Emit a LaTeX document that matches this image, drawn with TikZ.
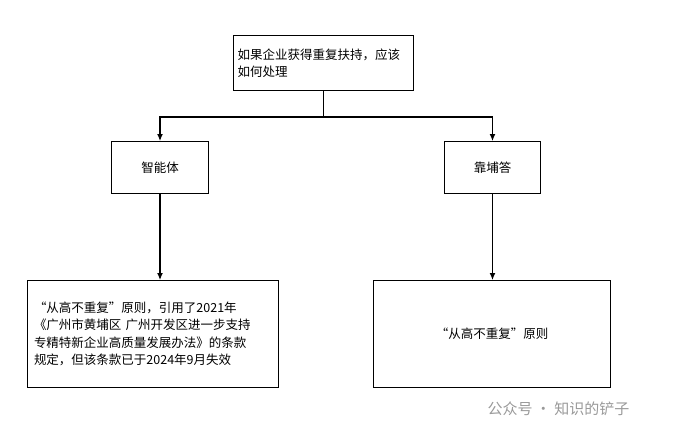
\documentclass[tikz,border=0pt]{standalone}
\usepackage{fontspec}
\setmainfont{Noto Sans CJK SC}
\usetikzlibrary{arrows.meta}
\begin{document}
\begin{tikzpicture}[x=1pt,y=-1pt,
  box/.style={draw,line width=1pt,inner sep=0pt,font=\fontsize{12.5}{17.5}\selectfont},
  arr/.style={line width=1.2pt,-{Latex[length=7pt,width=6pt]}}]
\useasboundingbox (0,0) rectangle (688,437);
\node[box,minimum width=180,minimum height=55,anchor=north west,text width=172,align=left] (top) at (233,35) {如果企业获得重复扶持，应该\\如何处理};
\node[box,minimum width=97,minimum height=52,anchor=north west] (l) at (111,141) {智能体};
\node[box,minimum width=96,minimum height=52,anchor=north west] (r) at (444,141) {靠埔答};
\node[box,minimum width=251,minimum height=107,anchor=north west,text width=238,align=left] (bl) at (27,280) {“从高不重复”原则，引用了2021年\\《广州市黄埔区 广州开发区进一步支持\\专精特新企业高质量发展办法》的条款\\规定，但该条款已于2024年9月失效};
\node[box,minimum width=237,minimum height=107,anchor=north west] (br) at (373,280) {“从高不重复”原则};
\coordinate (j) at (top.south |- 0,117);
\draw[line width=1.2pt] (top.south) -- (j);
\draw[arr] (j) -| (l.north);
\draw[arr] (j) -| (r.north);
\draw[arr] (l.south) -- (bl.north -| l.south);
\draw[arr] (r.south) -- (br.north -| r.south);
\node[text=gray!80,font=\fontsize{15}{17}\selectfont,anchor=west] (wm) at (484,409) {公众号 · 知识的铲子};
\end{tikzpicture}
\end{document}
